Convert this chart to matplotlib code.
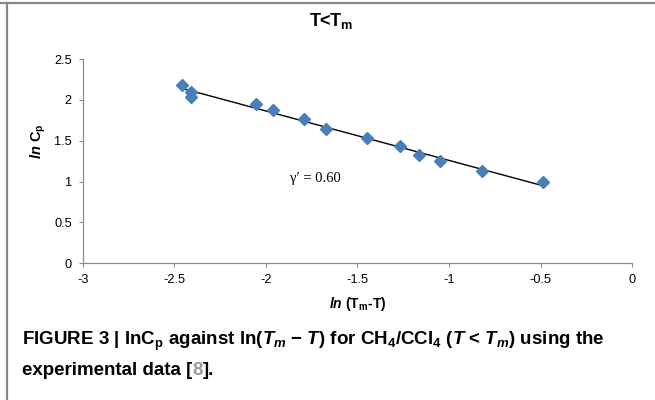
import numpy as np
import matplotlib
matplotlib.use('Agg')
import matplotlib.pyplot as plt
from matplotlib.lines import Line2D
from matplotlib.transforms import offset_copy

# data: ln(Tm-T) vs ln Cp
ln_dt = [-2.46, -2.41, -2.41, -2.055, -1.96, -1.79, -1.67, -1.45, -1.266, -1.166, -1.05, -0.82, -0.486]
ln_cp = [2.18, 2.10, 2.03, 1.95, 1.88, 1.76, 1.64, 1.53, 1.43, 1.33, 1.25, 1.13, 0.99]
xticks = [-3, -2.5, -2, -1.5, -1, -0.5, 0]
yticks = [0, 0.5, 1, 1.5, 2, 2.5]

plt.rcParams['font.family'] = ['Liberation Sans', 'DejaVu Sans']
plt.rcParams['axes.unicode_minus'] = False
plt.rcParams['mathtext.fontset'] = 'custom'
plt.rcParams['mathtext.rm'] = 'Liberation Sans:bold'
plt.rcParams['mathtext.it'] = 'Liberation Sans:bold:italic'
plt.rcParams['mathtext.bf'] = 'Liberation Sans:bold'

fig = plt.figure(figsize=(6.55, 4.0), dpi=100)
ax = fig.add_axes([0.1267, 0.3418, 0.8382, 0.5107])

# linear trendline over the data range
k, b = np.polyfit(ln_dt, ln_cp, 1)
xs = np.array([min(ln_dt), max(ln_dt)])
ax.plot(xs, k * xs + b, color='black', lw=1.0, zorder=2)
ax.plot(ln_dt, ln_cp, 'D', color='#4a7ebb', ms=5.8, mec='#4a7ebb', zorder=3)

ax.set_xlim(-3, 0)
ax.set_ylim(0, 2.5)
ax.set_xticks(xticks)
ax.set_xticklabels([f'{t:g}' for t in xticks])
ax.set_yticks(yticks)
ax.set_yticklabels([f'{t:g}' for t in yticks])
for s in ['top', 'right']:
    ax.spines[s].set_visible(False)
for s in ['left', 'bottom']:
    ax.spines[s].set_color('#8c8c8c')
    ax.spines[s].set_linewidth(0.9)
ax.tick_params(direction='out', length=3, width=0.8, color='#8c8c8c',
               labelsize=9.2, pad=5)

ax.text(-1.73, 1.04, 'γ′ = 0.60', family=['Liberation Serif', 'DejaVu Serif'],
        fontsize=10.5, ha='center', va='center')

fig.text(0.505, 0.948, r'T<T$_\mathrm{m}$', ha='center', va='center',
         fontsize=13, fontweight='bold')
ax.set_xlabel(r'$\mathit{ln}$ (T$_\mathrm{m}$-T)', fontsize=10, fontweight='bold')
ax.xaxis.set_label_coords(0.5, -0.155)
ax.set_ylabel(r'$\mathit{ln}$ C$_\mathrm{p}$', fontsize=10.5, fontweight='bold')
ax.yaxis.set_label_coords(-0.063, 0.6)

# frame lines of the figure panel
fig.add_artist(Line2D([0, 1], [0.9925, 0.9925], color='#888888', lw=1.6))
fig.add_artist(Line2D([0.0107, 0.0107], [0, 0.9925], color='#888888', lw=1.6))

# caption
fs = 13.5
cap1 = (r'FIGURE 3 | lnC$_\mathrm{p}$ against ln($T_m$ $-$ $T$) for '
        r'CH$_4$/CCl$_4$ ($T$ < $T_m$) using the')
fig.text(0.034, 0.146, cap1, fontsize=fs, fontweight='bold', va='center')
t1 = fig.text(0.034, 0.074, 'experimental data [', fontsize=fs,
              fontweight='bold', va='center')
fig.canvas.draw()
r = fig.canvas.get_renderer()
w1 = t1.get_window_extent(r).width
t2 = fig.text(0.034, 0.074, '8', fontsize=fs, fontweight='bold', va='center',
              color='#9a9a9a',
              transform=offset_copy(fig.transFigure, fig=fig, x=w1, y=0, units='dots'))
w2 = t2.get_window_extent(r).width
fig.text(0.034, 0.074, '].', fontsize=fs, fontweight='bold', va='center',
         transform=offset_copy(fig.transFigure, fig=fig, x=w1 + w2, y=0, units='dots'))

fig.savefig('out.png', dpi=100)
